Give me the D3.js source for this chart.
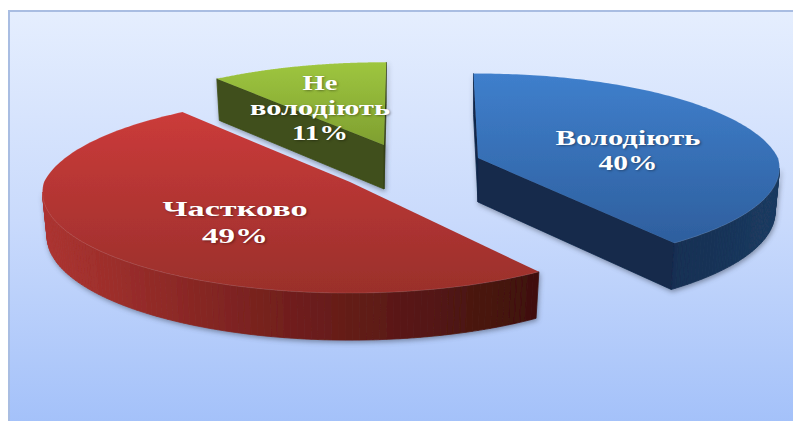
<!DOCTYPE html>
<html><head><meta charset="utf-8">
<script src="https://cdn.jsdelivr.net/npm/d3@7/dist/d3.min.js"></script>
<style>html,body{margin:0;padding:0;background:#fff}svg{display:block}
text{font-family:"Liberation Serif",serif;font-weight:bold;fill:#fff;text-anchor:middle;text-shadow:1px 1px 2px rgba(0,0,0,.35)}</style>
</head><body><script>
// data
const categories = ["Володіють", "Частково", "Не володіють"];
const values = [40, 49, 11];
const labelLines = [["Володіють", "40%"], ["Частково", "49%"], ["Не", "володіють", "11%"]];
// style & layout (not data)
const faceTop = ["#3f7fcc", "#cb3b3a", "#9ec63f"];
const faceBottom = ["#2e5f9e", "#9a2f2b", "#7f9f30"];
const wallLeft = ["#12274a", "#ad3431", "#4d6020"];
const wallMid = ["#132a4c", "#701f1c", "#3f4f1a"];
const wallRight = ["#1b3a60", "#3e110d", "#333f15"];
const centerX = [478, 350, 384];
const centerY = [158, 182, 145];
const radiusX = [300, 306, 298];
const radiusY = [98, 100, 96];
const twistDeg = [0, 2.5, 1.5];
const labelX = [628, 235, 320];
const labelBaselines = [[145, 170], [216, 243], [90, 115, 140]];
const labelWidths = [[145, 59], [145, 66], [35, 140, 56]];

const W = 793, H = 421;
const FONT = 21.5, P_BACK = 0.16, P_FRONT = 0.1, DEPTH = 44, DEPTH_P = 3, SHRINK = 0.985;
const pie = d3.pie().sort(null).value(d => d)
  .startAngle(-Math.PI / 180).endAngle(2 * Math.PI - Math.PI / 180);
const arcs = pie(values);

const svg = d3.select("body").append("svg").attr("width", W).attr("height", H);
const defs = svg.append("defs");
const bg = defs.append("linearGradient").attr("id", "bg").attr("x1", 0).attr("x2", 0).attr("y1", 0).attr("y2", 1);
bg.append("stop").attr("offset", 0).attr("stop-color", "#e5eefe");
bg.append("stop").attr("offset", .5).attr("stop-color", "#c9dafc");
bg.append("stop").attr("offset", 1).attr("stop-color", "#a2c0f9");
defs.append("filter").attr("id", "soft").attr("x", "-10%").attr("y", "-10%").attr("width", "120%").attr("height", "130%")
  .append("feGaussianBlur").attr("stdDeviation", 2.5);
defs.append("filter").attr("id", "slight").attr("x", "-5%").attr("y", "-5%").attr("width", "110%").attr("height", "110%")
  .append("feGaussianBlur").attr("stdDeviation", 0.6);

svg.append("rect").attr("x", 9).attr("y", 11).attr("width", W).attr("height", H)
  .attr("fill", "url(#bg)").attr("stroke", "#a9bde2").attr("stroke-width", 2);

const line = d3.line();
arcs.forEach((arc, i) => {
  const cx = centerX[i], cy = centerY[i], A = radiusX[i], K = radiusY[i];
  const tw = twistDeg[i] * Math.PI / 180;
  const persp = z => 1 / (1 + (z > 0 ? P_BACK : P_FRONT) * z);
  const top = th => {
    const z = Math.cos(th), x = Math.sin(th), s = persp(z);
    return [cx + A * x * s, cy - K * z * s];
  };
  const bottom = th => {
    const z = Math.cos(th), x = Math.sin(th), s = persp(z);
    return [cx + SHRINK * A * x * s, cy - K * z * s + DEPTH - DEPTH_P * z];
  };
  const angles = d3.range(0, 151).map(j => tw + arc.startAngle + (arc.endAngle - arc.startAngle) * j / 150);
  arc.topPts = [[cx, cy], ...angles.map(top)];
  arc.botPts = [[cx, cy + DEPTH], ...angles.map(bottom)];
  arc.rimPts = angles.map(top);
});

const shadowLayer = svg.append("g").attr("filter", "url(#soft)").attr("opacity", .5).attr("transform", "translate(1,2)");
const order = [2, 0, 1];
order.forEach(i => {
  const arc = arcs[i];
  const g = svg.append("g").attr("filter", "url(#slight)");
  const n = arc.topPts.length;
  const xs = arc.topPts.map(p => p[0]);
  const colour = d3.scaleLinear()
    .domain([d3.min(xs), (d3.min(xs) + d3.max(xs)) / 2, d3.max(xs)])
    .range([wallLeft[i], wallMid[i], wallRight[i]]);
  const quads = [];
  for (let j = 0; j < n; j++) {
    const k = (j + 1) % n, a = arc.topPts[j], b = arc.topPts[k];
    if (b[0] - a[0] < 0) quads.push({ pts: [a, b, arc.botPts[k], arc.botPts[j]], x: (a[0] + b[0]) / 2 });
  }
  shadowLayer.append("g").selectAll("path").data(quads).join("path")
    .attr("d", d => line(d.pts) + "Z").attr("fill", "#3a4252").attr("stroke", "#3a4252");
  g.selectAll("path.wall").data(quads).join("path").attr("class", "wall")
    .attr("d", d => line(d.pts) + "Z")
    .attr("fill", d => colour(d.x)).attr("stroke", d => colour(d.x)).attr("stroke-width", .8);
  const gid = "face" + i;
  const lg = defs.append("linearGradient").attr("id", gid).attr("x1", 0).attr("x2", 0).attr("y1", 0).attr("y2", 1);
  lg.append("stop").attr("offset", 0).attr("stop-color", faceTop[i]);
  lg.append("stop").attr("offset", 1).attr("stop-color", faceBottom[i]);
  g.append("path").attr("d", line(arc.topPts) + "Z").attr("fill", `url(#${gid})`);
  g.append("path").attr("d", line(arc.rimPts)).attr("fill", "none")
    .attr("stroke", "#fff").attr("stroke-opacity", .1).attr("stroke-width", 1);
});

labelLines.forEach((lines, i) => {
  lines.forEach((t, j) => {
    svg.append("text").attr("x", labelX[i]).attr("y", labelBaselines[i][j])
      .attr("font-size", FONT).attr("textLength", labelWidths[i][j])
      .attr("lengthAdjust", "spacingAndGlyphs").text(t);
  });
});
</script></body></html>
